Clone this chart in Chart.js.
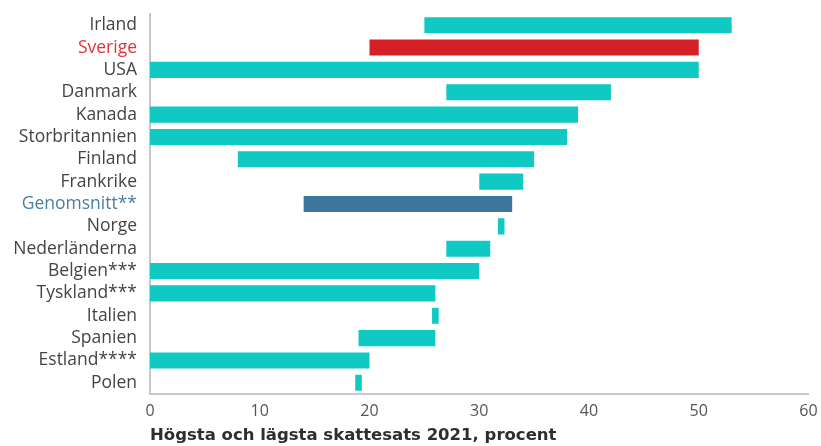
<!DOCTYPE html>
<html>
<head>
<meta charset="utf-8">
<script src="https://cdn.jsdelivr.net/npm/chart.js@4"></script>
<style>
  html, body { margin: 0; padding: 0; background: #ffffff; }
  #wrap { width: 821px; height: 446px; position: relative; }
</style>
</head>
<body>
<div id="wrap"><canvas id="chart"></canvas></div>
<script>
// Country list, top to bottom
const categories = [
  'Irland', 'Sverige', 'USA', 'Danmark', 'Kanada', 'Storbritannien',
  'Finland', 'Frankrike', 'Genomsnitt**', 'Norge', 'Nederländerna',
  'Belgien***', 'Tyskland***', 'Italien', 'Spanien', 'Estland****', 'Polen'
];
// Lowest tax rate 2021, percent
const lowestRate = [25, 20, 0, 27, 0, 0, 8, 30, 14, 31.7, 27, 0, 0, 25.7, 19, 0, 18.7];
// Highest tax rate 2021, percent
const highestRate = [53, 50, 50, 42, 39, 38, 35, 34, 33, 32.3, 31, 30, 26, 26.3, 26, 20, 19.3];
// Value-axis tick labels
const xTicks = [0, 10, 20, 30, 40, 50, 60];

const TEAL = '#11c9c3';
const RED = '#d62027';
const BLUE = '#3d789c';
const barColor = name => name === 'Sverige' ? RED : (name.startsWith('Genomsnitt') ? BLUE : TEAL);
const labelColor = name => name === 'Sverige' ? '#e0323a' : (name.startsWith('Genomsnitt') ? '#4a7fa3' : '#444444');

// Let the layout padding alone decide the plot area edges
const noScalePadding = s => {
  s.paddingTop = 0; s.paddingBottom = 0; s.paddingLeft = 0; s.paddingRight = 0;
};

new Chart(document.getElementById('chart'), {
  type: 'bar',
  data: {
    labels: categories,
    datasets: [{
      data: categories.map((c, i) => [lowestRate[i], highestRate[i]]),
      backgroundColor: categories.map(barColor),
      borderWidth: 0,
      borderSkipped: false,
      barPercentage: 0.72,
      categoryPercentage: 1.0
    }]
  },
  options: {
    indexAxis: 'y',
    responsive: true,
    maintainAspectRatio: false,
    animation: false,
    layout: { padding: { top: 14, right: 12.5, left: 0, bottom: 0 } },
    plugins: { legend: { display: false }, tooltip: { enabled: false } },
    scales: {
      x: {
        min: 0, max: 60,
        afterBuildTicks: s => { s.ticks = xTicks.map(v => ({ value: v })); },
        afterFit: s => { s.height = 52; noScalePadding(s); },
        grid: { display: false, drawTicks: false },
        border: { display: true, color: '#c8c8c8', width: 2 },
        ticks: {
          padding: 8,
          color: '#555555',
          font: { family: 'Open Sans', size: 16 }
        },
        title: {
          display: true,
          text: 'Högsta och lägsta skattesats 2021, procent',
          align: 'start',
          color: '#2e2e2e',
          font: { family: 'DejaVu Sans', size: 16.5, weight: 'bold' },
          padding: { top: 2, bottom: 0 }
        }
      },
      y: {
        afterFit: s => { s.width = 150; noScalePadding(s); },
        grid: { display: false, drawTicks: false },
        border: { display: true, color: '#c8c8c8', width: 2 },
        ticks: {
          padding: 13,
          autoSkip: false,
          color: ctx => labelColor(categories[ctx.index]),
          font: { family: 'Open Sans', size: 17.5 }
        }
      }
    }
  }
});
</script>
</body>
</html>
